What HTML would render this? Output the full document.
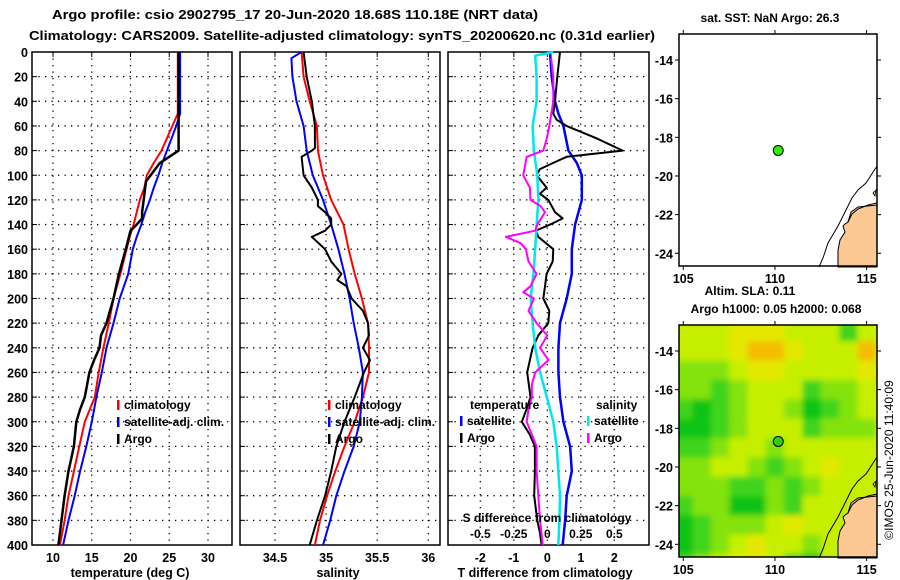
<!DOCTYPE html>
<html><head><meta charset="utf-8">
<style>
html,body{margin:0;padding:0;background:#fff;}
svg{display:block;font-family:"Liberation Sans",sans-serif;font-weight:bold;}
text{fill:#000;}
</style></head>
<body>
<svg id="chart" width="900" height="580" viewBox="0 0 900 580" xmlns="http://www.w3.org/2000/svg">
<defs>
<filter id="blur" x="-10%" y="-10%" width="120%" height="120%"><feGaussianBlur stdDeviation="3"/></filter>
<clipPath id="mapclip"><rect x="679" y="325" width="198" height="232"/></clipPath>
</defs>
<text x="295" y="19" text-anchor="middle" font-size="13" textLength="486" lengthAdjust="spacingAndGlyphs">Argo profile: csio 2902795_17 20-Jun-2020 18.68S 110.18E (NRT data)</text>
<text x="342" y="40" text-anchor="middle" font-size="13" textLength="626" lengthAdjust="spacingAndGlyphs">Climatology: CARS2009. Satellite-adjusted climatology: synTS_20200620.nc (0.31d earlier)</text>
<g id="g"></g>
</svg>
<script>
// ---- data ----
const depthT = [0,50,60,70,80,90,100,110,120,130,140,150,160,180,200,220,240,260,280,300,320,340,360,380,400];
const tempClim = [26.1,26.1,25.4,24.7,24.0,23.0,22.1,21.8,21.2,20.8,20.4,19.9,19.5,18.7,17.8,17.2,16.5,15.9,15.4,14.1,13.4,12.7,12.0,11.5,10.9];
const tempSat = [26.4,26.4,25.9,25.3,24.7,24.1,23.6,23.0,22.5,21.9,21.4,20.8,20.3,19.7,18.6,17.8,16.9,16.3,15.6,15.0,14.3,13.5,12.8,12.0,11.3];
const depthA = [0,80,85,90,100,105,120,130,135,140,145,160,180,200,220,230,240,250,260,280,290,300,320,340,360,380,400];
const tempArgo = [26.2,26.2,25.0,23.8,22.6,22.0,21.7,21.5,21.5,20.8,20.0,19.4,18.5,17.8,16.9,16.2,16.0,15.3,14.7,14.1,13.5,13.0,12.7,12.0,11.5,11.1,10.7];

const depthS = [0,20,40,60,80,100,120,140,160,180,200,220,240,260,280,300,320,340,360,380,400];
const salClim = [34.76,34.78,34.84,34.91,34.92,34.97,35.05,35.17,35.22,35.28,35.35,35.41,35.42,35.42,35.36,35.28,35.18,35.09,35.01,34.94,34.89];
const depthSs = [0,5,20,40,60,80,100,120,140,160,180,200,220,240,260,280,300,320,340,360,380,400];
const salSat = [34.76,34.66,34.67,34.71,34.78,34.81,34.87,34.97,35.05,35.12,35.18,35.23,35.27,35.32,35.36,35.35,35.33,35.27,35.18,35.10,35.04,34.97];
const depthSA = [0,20,40,60,78,80,85,100,110,120,125,130,135,140,145,150,160,170,180,185,190,200,210,220,230,240,250,260,280,300,320,340,360,380,400];
const salArgo = [34.78,34.81,34.86,34.89,34.89,34.86,34.76,34.78,34.86,34.92,34.92,34.99,35.05,35.05,34.99,34.86,34.99,35.05,35.15,35.11,35.20,35.25,35.36,35.41,35.42,35.36,35.43,35.37,35.28,35.18,35.10,35.05,34.99,34.91,34.84];

const depthDT = [0,20,40,50,60,80,90,100,120,140,160,180,200,220,240,260,280,300,320,340,360,380,400];
const dTsat = [0.08,0.13,0.23,0.33,0.48,0.63,0.88,1.03,1.03,0.83,0.73,0.73,0.58,0.38,0.33,0.33,0.38,0.48,0.68,0.73,0.58,0.53,0.46];
const depthDA = [0,20,40,50,55,60,70,80,85,90,95,100,110,115,120,130,135,140,145,150,160,170,180,190,200,210,220,230,240,250,260,280,290,300,310,320,340,360,380,390,400];
const dTargo = [0.38,0.30,0.23,0.18,0.28,0.58,1.47,2.25,0.58,0.18,-0.22,-0.32,-0.02,-0.22,0.03,0.23,0.46,0.08,-0.34,-0.27,0.18,0.16,-0.02,-0.07,-0.12,0.06,0.03,-0.27,-0.44,-0.52,-0.60,-0.50,-0.62,-0.76,-0.53,-0.37,-0.37,-0.39,-0.30,-0.22,-0.17];
const depthDSs = [0,3,20,40,60,80,100,120,140,160,180,200,220,240,260,280,300,320,340,360,380,400];
const dSsat = [0.045,-0.09,-0.08,-0.08,-0.11,-0.10,-0.075,-0.067,-0.08,-0.09,-0.104,-0.124,-0.11,-0.09,-0.054,-0.004,0.045,0.07,0.082,0.095,0.09,0.082];
const depthDSA = [5,20,40,60,70,80,85,100,110,120,125,130,140,145,150,155,160,170,180,190,195,200,210,220,230,240,250,260,270,280,290,300,320,340,360,380,400];
const dSargo = [0.028,0.045,0.045,0.015,-0.004,-0.03,-0.154,-0.18,-0.13,-0.125,-0.05,-0.017,-0.075,-0.09,-0.31,-0.2,-0.16,-0.14,-0.08,-0.125,-0.18,-0.1,-0.14,-0.08,0.0,-0.054,0.008,-0.09,-0.116,-0.116,-0.14,-0.154,-0.08,-0.08,-0.067,-0.054,-0.034];

const depthTicks = [0,20,40,60,80,100,120,140,160,180,200,220,240,260,280,300,320,340,360,380,400];
const tempTicks = [10,15,20,25,30];
const salTicks = [34.5,35,35.5,36];
const salTickLabels = ["34.5","35","35.5","36"];
const dTTicks = [-2,-1,0,1,2];
const dSTicks = [-0.5,-0.25,0,0.25,0.5];
const dSTickLabels = ["-0.5","-0.25","0","0.25","0.5"];

const lonTicks = [105,110,115];
const latTicks = [-14,-16,-18,-20,-22,-24];
const argoLon = 110.18, argoLat = -18.68;
const slaLats = [-13,-14,-15,-16,-17,-18,-19,-20,-21,-22,-23,-24,-25];
const slaLons = [105,106,107,108,109,110,111,112,113,114,115];
const slaGrid = [
 [3,3,3,4,4,4,3,3,3,1,3],
 [3,3,3,4,5,5,4,3,3,3,5],
 [2,2,2,3,4,4,3,3,3,3,4],
 [2,2,1,2,3,3,3,1,2,2,3],
 [1,0,1,2,3,3,2,0,1,2,3],
 [0,0,1,2,3,3,3,1,2,2,2],
 [1,1,2,3,3,2,3,3,3,3,3],
 [2,2,3,3,2,1,2,3,4,3,3],
 [2,2,2,1,1,2,1,2,3,3,3],
 [1,2,2,0,0,2,1,3,3,3,3],
 [0,1,2,2,2,3,4,3,3,3,3],
 [0,1,2,3,4,3,3,2,3,3,3],
 [1,2,3,4,4,3,1,0,3,3,3]];
const slaColors = ["#10c412","#40d41a","#84e20e","#c6ef02","#e4e800","#f4be00"];

// ---- helpers ----
const NS = "http://www.w3.org/2000/svg";
const G = document.getElementById('g');
function el(tag, attrs, parent){ const e=document.createElementNS(NS,tag); for(const k in attrs) e.setAttribute(k,attrs[k]); (parent||G).appendChild(e); return e; }
function txt(x,y,s,size,anchor,parent){ const t=el('text',{x:x,y:y,'font-size':size,'text-anchor':anchor||'middle'},parent); t.textContent=s; return t; }

const Y0=52, Y1=545;
const yD = d => Y0 + d*(Y1-Y0)/400;
const xT = t => 53 + (t-10)*7.75;
const xS = s => 275 + (s-34.5)*102.2;
const xDT = v => 547.3 + v*33.5;
const xDS = v => 547.3 + v*134;

function panel(name, x0, x1, xticks, xfn, labels){
  const g = el('g',{});
  
  
  depthTicks.forEach(d=>{ if(d>0 && d<400){ const l=el('line',{x1:x0,x2:x1,y1:yD(d),y2:yD(d),stroke:'#000','stroke-width':1.3,'stroke-dasharray':'1.3 5.2'},g);
      }
    el('line',{x1:x0,x2:x0+5,y1:yD(d),y2:yD(d),stroke:'#000'},g); });
  xticks.forEach((v,i)=>{ const x=xfn(v);
    const l=el('line',{x1:x,x2:x,y1:Y0,y2:Y1,stroke:'#000','stroke-width':1.3,'stroke-dasharray':'1.3 5.2'},g);
     
    el('line',{x1:x,x2:x,y1:Y0,y2:Y0+5,stroke:'#000'},g);
    const t=txt(x,562,labels?labels[i]:String(v),12.5,'middle',g);
      });
  const r=el('rect',{x:x0,y:Y0,width:x1-x0,height:Y1-Y0,fill:'none',stroke:'#000','stroke-width':1.5},g);
   
  return g;
}
let xfnCur;
function line(xs, ds, color, w, name, g){
  const pts = xs.map((v,i)=>xfnCur(v).toFixed(1)+','+yD(ds[i]).toFixed(1)).join(' ');
  const p=el('polyline',{points:pts,fill:'none',stroke:color,'stroke-width':w,'stroke-linejoin':'round'},g);
  
  
}
function legend(items, x, y0, g){
  items.forEach((it,i)=>{ const y=y0+i*17;
    el('rect',{x:x,y:y-9,width:2.5,height:10,fill:it[1]},g);
    const t=txt(x+7,y,it[0],12,'start',g);
      });
}

depthTicks.forEach(d=>{ const t=txt(28,yD(d)+5,String(d),12.5,'end');   });

const p1=panel('temperature-panel',32,232,tempTicks,xT);
xfnCur=xT;
line(tempClim,depthT,'#ff0000',2,'temp-climatology-line',p1);
line(tempSat,depthT,'#0000ff',2,'temp-satellite-line',p1);
line(tempArgo,depthA,'#000000',2.5,'temp-argo-line',p1);
legend([['climatology','#ff0000'],['satellite-adj. clim.','#0000ff'],['Argo','#000000']],117,409,p1);
let t=txt(130,577,'temperature (deg C)',12.5);  

const p2=panel('salinity-panel',240,440,salTicks,xS,salTickLabels);
xfnCur=xS;
line(salClim,depthS,'#ff0000',2,'sal-climatology-line',p2);
line(salSat,depthSs,'#0000ff',2,'sal-satellite-line',p2);
line(salArgo,depthSA,'#000000',2,'sal-argo-line',p2);
legend([['climatology','#ff0000'],['satellite-adj. clim.','#0000ff'],['Argo','#000000']],328,409,p2);
t=txt(338,577,'salinity',12.5);  

const p3=panel('difference-panel',448,649,dTTicks,xDT);
xfnCur=xDT;
line(dTsat,depthDT,'#0000ff',2.5,'tdiff-satellite-line',p3);
line(dTargo,depthDA,'#000000',2,'tdiff-argo-line',p3);
xfnCur=xDS;
line(dSsat,depthDSs,'#00e5ee',2.5,'sdiff-satellite-line',p3);
line(dSargo,depthDSA,'#ff00ff',2,'sdiff-argo-line',p3);
t=txt(470,409,'temperature',12,'start',p3);  
t=txt(596,409,'salinity',12,'start',p3);  
legend([['satellite','#0000ff'],['Argo','#000000']],460,425,p3);
legend([['satellite','#00e5ee'],['Argo','#ff00ff']],587,425,p3);
t=txt(547,522,'S difference from climatology',12,'middle',p3);  
dSTicks.forEach((v,i)=>{ const tt=txt(xDS(v),538,dSTickLabels[i],12,'middle',p3);   });
t=txt(545,577,'T difference from climatology',12.5);  

const MX0=679, MX1=877;
const mx = lon => 683.3 + (lon-105)*18.33;
function map(name, top, withSla){
  const off = top-34;
  const my = lat => 60 + off + (-14-lat)*19.33;
  const g=el('g',{});
  
  
  if(withSla){
    el('rect',{x:MX0,y:top,width:198,height:232,fill:'#c6ef02'},g);
    const cg=el('g',{'clip-path':'url(#mapclip)'},g);
    const bg=el('g',{filter:'url(#blur)'},cg);
    slaLats.forEach((lat,r)=>slaLons.forEach((lon,c)=>{
      const cell=el('rect',{x:mx(lon-0.5),y:my(lat+0.5),width:18.6,height:19.6,fill:slaColors[slaGrid[r][c]]},bg);
      
      
    }));
  }
  const land=el('polygon',{points:[[877,205],[858,207],[851,212],[848,222],[845,224],[843,226],[845,232],[840,240],[838,250],[838,267],[877,267]].map(p=>p[0]+','+(p[1]+off)).join(' '),fill:'#fcc994',stroke:'#000','stroke-width':1},g);
   
  el('polyline',{points:[[819,267],[823,258],[828,243],[838,226],[845,212],[852,198],[858,190],[866,183],[877,166]].map(p=>p[0]+','+(p[1]+off)).join(' '),fill:'none',stroke:'#000','stroke-width':1},g);
  el('polyline',{points:[[848,222],[852,214],[858,209],[868,205],[877,203]].map(p=>p[0]+','+(p[1]+off)).join(' '),fill:'none',stroke:'#000','stroke-width':1},g);
  el('polygon',{points:[[873,193],[876,190],[875,196]].map(p=>p[0]+','+(p[1]+off)).join(' '),fill:'#fcc994',stroke:'#000','stroke-width':0.8},g);
  const dot=el('circle',{cx:mx(argoLon),cy:my(argoLat),r:5,fill:withSla?'#33cc11':'#33ee00',stroke:'#000','stroke-width':1},g);
   
  el('rect',{x:MX0,y:top,width:198,height:232,fill:'none',stroke:'#000','stroke-width':1.5},g);
  lonTicks.forEach(l=>{ el('line',{x1:mx(l),x2:mx(l),y1:top,y2:top-4,stroke:'#000'},g); el('line',{x1:mx(l),x2:mx(l),y1:top+232,y2:top+236,stroke:'#000'},g);
    const tt=txt(mx(l),top+249,String(l),12.5,'middle',g);   });
  latTicks.forEach(l=>{ el('line',{x1:MX0,x2:MX0-4,y1:my(l),y2:my(l),stroke:'#000'},g); el('line',{x1:MX1,x2:MX1+4,y1:my(l),y2:my(l),stroke:'#000'},g);
    const tt=txt(673,my(l)+5,String(l),12.5,'end',g);   });
}
map('sst-map',34,false);
map('sla-map',325,true);
t=txt(770,22,'sat. SST: NaN Argo: 26.3',12);  
t=txt(750,295,'Altim. SLA: 0.11',12);  
t=txt(776,313,'Argo h1000: 0.05 h2000: 0.068',12);  
t=el('text',{x:0,y:0,'font-size':12,'font-weight':'normal','text-anchor':'middle',transform:'translate(893,460) rotate(-90)'});
t.textContent='©IMOS 25-Jun-2020 11:40:09';
 
</script>
</body></html>
